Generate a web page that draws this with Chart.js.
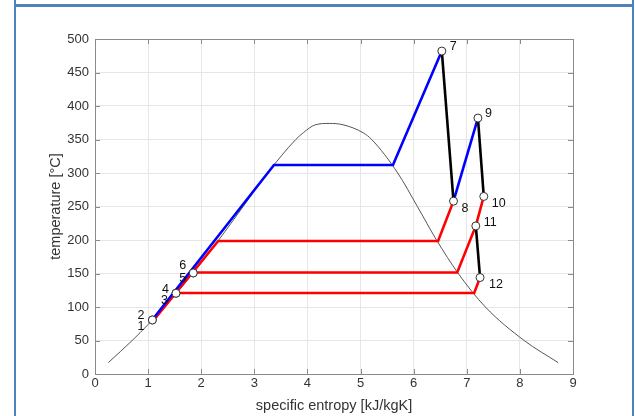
<!DOCTYPE html>
<html>
<head>
<meta charset="utf-8">
<script src="https://cdn.jsdelivr.net/npm/chart.js@4/dist/chart.umd.min.js"></script>
<style>
  html, body { margin: 0; padding: 0; background: #fff; }
  #wrap { position: relative; width: 635px; height: 416px; overflow: hidden; }
  .frame { position: absolute; background: #4f81bd; }
</style>
</head>
<body>
<div id="wrap">
  <canvas id="tsChart" width="635" height="416"></canvas>
  <div class="frame" style="left:14px;top:0;width:2px;height:416px"></div>
  <div class="frame" style="left:632px;top:0;width:2px;height:416px"></div>
  <div class="frame" style="left:16px;top:4px;width:616px;height:3px"></div>
</div>
<script>
'use strict';

// ── Data (s in kJ/kgK, T in °C) ───────────────────────────────────
const X_TICKS = [0, 1, 2, 3, 4, 5, 6, 7, 8, 9];
const Y_TICKS = [0, 50, 100, 150, 200, 250, 300, 350, 400, 450, 500];

// saturation dome
const domeS = [0.25, 0.70, 1.31, 1.84, 2.33, 2.79, 3.25, 3.78, 3.92, 4.15, 4.41, 4.67, 5.05, 5.21, 5.70, 6.07, 6.43, 6.84, 7.35, 8.08, 8.72];
const domeT = [17, 50, 100, 150, 200, 250, 300, 350, 360, 372, 374, 372, 360, 350, 300, 250, 200, 150, 100, 50, 17];

// high pressure (blue)
const hpS = [1.08, 3.37, 5.61, 6.53];
const hpT = [81, 312, 312, 482];
// reheat (blue)
const rhS = [6.75, 7.21];
const rhT = [258, 382];

// expansions (black)
const exp1S = [6.53, 6.75];
const exp1T = [482, 258];
const exp2S = [7.21, 7.32];
const exp2T = [382, 265];
const exp3S = [7.17, 7.25];
const exp3T = [221, 144];

// intermediate / low pressure (red)
const ipS = [1.10, 2.32, 6.46, 6.75];
const ipT = [80, 198.5, 198.5, 258];
const mpS = [1.85, 6.82, 7.17, 7.32];
const mpT = [151.5, 151.5, 221, 265];
const lpS = [1.53, 7.14, 7.25];
const lpT = [121, 121, 144];

// state points
const stateIds = ['1', '2', '3', '4', '5', '6', '7', '8', '9', '10', '11', '12'];
const stateS = [1.08, 1.08, 1.525, 1.525, 1.85, 1.85, 6.53, 6.75, 7.21, 7.32, 7.17, 7.25];
const stateT = [80.6, 80.6, 120.5, 120.5, 150.8, 150.8, 482, 258, 382, 265, 221, 144];

// label placement (px from the point, align)
const LABEL_POS = {
  '1': [-8, 7, 'right'], '2': [-8, -4, 'right'],
  '3': [-8, 7, 'right'], '4': [-7, -4, 'right'],
  '5': [-7, 6, 'right'], '6': [-7, -7, 'right'],
  '7': [8, -5, 'left'], '8': [8, 7, 'left'], '9': [7, -5, 'left'],
  '10': [8, 7, 'left'], '11': [8, -3, 'left'], '12': [9, 7, 'left'],
};

const pts = (xs, ys) => xs.map((x, i) => ({ x, y: ys[i] }));

// ── Plugins ───────────────────────────────────────────────────────
const axesBox = {
  id: 'axesBox',
  beforeDatasetsDraw(c) {
    const { ctx, chartArea: a, scales: { x, y } } = c;
    ctx.save();
    ctx.strokeStyle = '#8a8a8a';
    ctx.lineWidth = 1;
    ctx.beginPath();
    X_TICKS.forEach(v => {
      const px = Math.round(x.getPixelForValue(v)) + 0.5;
      ctx.moveTo(px, a.bottom); ctx.lineTo(px, a.bottom - 5);
      ctx.moveTo(px, a.top); ctx.lineTo(px, a.top + 5);
    });
    Y_TICKS.forEach(v => {
      const py = Math.round(y.getPixelForValue(v)) + 0.5;
      ctx.moveTo(a.left, py); ctx.lineTo(a.left + 5, py);
      ctx.moveTo(a.right, py); ctx.lineTo(a.right - 5, py);
    });
    ctx.stroke();
    ctx.strokeRect(Math.round(a.left) + 0.5, Math.round(a.top) + 0.5,
      Math.round(a.right - a.left), Math.round(a.bottom - a.top));
    ctx.restore();
  },
};

const stateLabels = {
  id: 'stateLabels',
  afterDatasetsDraw(c) {
    const { ctx, scales: { x, y } } = c;
    ctx.save();
    ctx.font = '12.5px "Liberation Sans", Arial, sans-serif';
    ctx.fillStyle = '#111';
    ctx.textBaseline = 'middle';
    stateIds.forEach((id, i) => {
      const [dx, dy, align] = LABEL_POS[id];
      ctx.textAlign = align;
      ctx.fillText(id, x.getPixelForValue(stateS[i]) + dx, y.getPixelForValue(stateT[i]) + dy);
    });
    ctx.restore();
  },
};

// ── Chart ─────────────────────────────────────────────────────────
function line(data, color, width) {
  return { data, borderColor: color, borderWidth: width, showLine: true, pointRadius: 0, pointHoverRadius: 0, fill: false, tension: 0 };
}

function initChart() {
  const ctx = document.getElementById('tsChart').getContext('2d');
  const tickFont = { family: '"Liberation Sans", Arial, sans-serif', size: 13 };
  const titleFont = { family: '"Liberation Sans", Arial, sans-serif', size: 14.5 };

  new Chart(ctx, {
    type: 'scatter',
    data: {
      datasets: [
        {
          data: pts(stateS, stateT),
          showLine: false,
          pointRadius: 4,
          pointBackgroundColor: '#fff',
          pointBorderColor: '#333',
          pointBorderWidth: 1,
        },
        line(pts(exp1S, exp1T), '#000', 2.6),
        line(pts(exp2S, exp2T), '#000', 2.6),
        line(pts(exp3S, exp3T), '#000', 2.6),
        line(pts(hpS, hpT), '#0000ff', 2.6),
        line(pts(rhS, rhT), '#0000ff', 2.6),
        line(pts(ipS, ipT), '#ff0000', 2.6),
        line(pts(mpS, mpT), '#ff0000', 2.6),
        line(pts(lpS, lpT), '#ff0000', 2.6),
        Object.assign(line(pts(domeS, domeT), '#555', 1), { cubicInterpolationMode: 'monotone' }),
      ],
    },
    options: {
      responsive: false,
      animation: false,
      devicePixelRatio: 1,
      layout: { padding: { left: 38, top: 39, right: 62, bottom: 0 } },
      scales: {
        x: {
          type: 'linear', min: 0, max: 9,
          afterBuildTicks: s => { s.ticks = X_TICKS.map(v => ({ value: v })); },
          afterFit: s => { s.height = 42; },
          ticks: { color: '#333', font: tickFont, padding: 2, maxRotation: 0 },
          grid: { color: '#e6e6e6', drawTicks: false },
          border: { display: false },
          title: { display: true, text: 'specific entropy [kJ/kgK]', color: '#333', font: titleFont, padding: { top: 0, bottom: 1 } },
        },
        y: {
          type: 'linear', min: 0, max: 500,
          afterBuildTicks: s => { s.ticks = Y_TICKS.map(v => ({ value: v })); },
          afterFit: s => { s.width = 57; },
          ticks: { color: '#333', font: tickFont, padding: 6 },
          grid: { color: '#e6e6e6', drawTicks: false },
          border: { display: false },
          title: { display: true, text: 'temperature [°C]', color: '#333', font: titleFont, padding: { top: 9, bottom: 0 } },
        },
      },
      plugins: {
        legend: { display: false },
        tooltip: { enabled: false },
      },
    },
    plugins: [axesBox, stateLabels],
  });
}

document.addEventListener('DOMContentLoaded', initChart);
</script>
</body>
</html>
